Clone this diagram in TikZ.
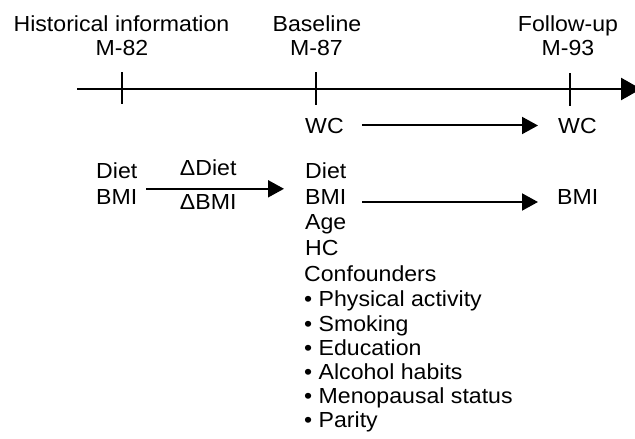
\documentclass[tikz,border=0pt]{standalone}
\usepackage{fontspec}
\setmainfont{Liberation Sans}[FakeStretch=1.06]
\usetikzlibrary{arrows.meta}

\begin{document}
\begin{tikzpicture}[
        x=1pt, y=-1pt,
        lbl/.style={
            inner sep=0pt,
            font=\fontsize{21.8}{25}\selectfont
        },
        headtext/.style={lbl, anchor=base},
        itemtext/.style={lbl, anchor=base west},
        axisline/.style={line width=2.6pt, -{Triangle[length=20pt,width=22pt]}},
        tickmark/.style={line width=2pt},
        flowarrow/.style={line width=2pt, -{Triangle[length=16pt,width=17pt]}}
    ]
    \useasboundingbox (0,0) rectangle (635,439);

    % Time points
    \node[headtext] (hist) at (121.5,31) {Historical information};
    \node[headtext] (m82) at (122,55) {M-82};
    \node[headtext] (base) at (317,31) {Baseline};
    \node[headtext] (m87) at (316.5,55) {M-87};
    \node[headtext] (follow) at (568,31) {Follow-up};
    \node[headtext] (m93) at (568,55) {M-93};

    % Time axis
    \coordinate (axisstart) at (77,89);
    \coordinate (axisend) at (641,89);
    \draw[axisline] (axisstart) -- (axisend);
    \draw[tickmark] (122,72) -- (122,104);
    \draw[tickmark] (316,72) -- (316,105);
    \draw[tickmark] (570,73) -- (570,106);

    % Historical information
    \node[itemtext] (hdiet) at (96,178) {Diet};
    \node[itemtext] (hbmi) at (96,204) {BMI};

    % Baseline
    \node[itemtext] (bwc) at (305,133) {WC};
    \node[itemtext] (bdiet) at (305,178) {Diet};
    \node[itemtext] (bbmi) at (305,204) {BMI};
    \node[itemtext] (bage) at (305,229) {Age};
    \node[itemtext] (bhc) at (305,255) {HC};
    \node[itemtext] (bconf) at (304,281) {Confounders};
    \node[itemtext] (bact) at (304,306) {• Physical activity};
    \node[itemtext] (bsmk) at (304,331) {• Smoking};
    \node[itemtext] (bedu) at (304,355) {• Education};
    \node[itemtext] (balc) at (304,379) {• Alcohol habits};
    \node[itemtext] (bmen) at (304,403) {• Menopausal status};
    \node[itemtext] (bpar) at (304,427) {• Parity};

    % Follow-up
    \node[itemtext] (fwc) at (558,133) {WC};
    \node[itemtext] (fbmi) at (557,204) {BMI};

    % Connections
    \draw[flowarrow] ([xshift=9pt]hbmi.north east) -- ([xshift=-21pt]bbmi.north west)
        node[midway, above=12pt, xshift=-7pt, lbl] {ΔDiet}
        node[midway, below=4.5pt, xshift=-7pt, lbl] {ΔBMI};
    \draw[flowarrow] ([xshift=18pt]bwc.east) -- ([xshift=-20pt]fwc.west);
    \draw[flowarrow] ([shift={(16pt,-5.5pt)}]bbmi.east) -- ([shift={(-19pt,-5.5pt)}]fbmi.west);

\end{tikzpicture}
\end{document}
